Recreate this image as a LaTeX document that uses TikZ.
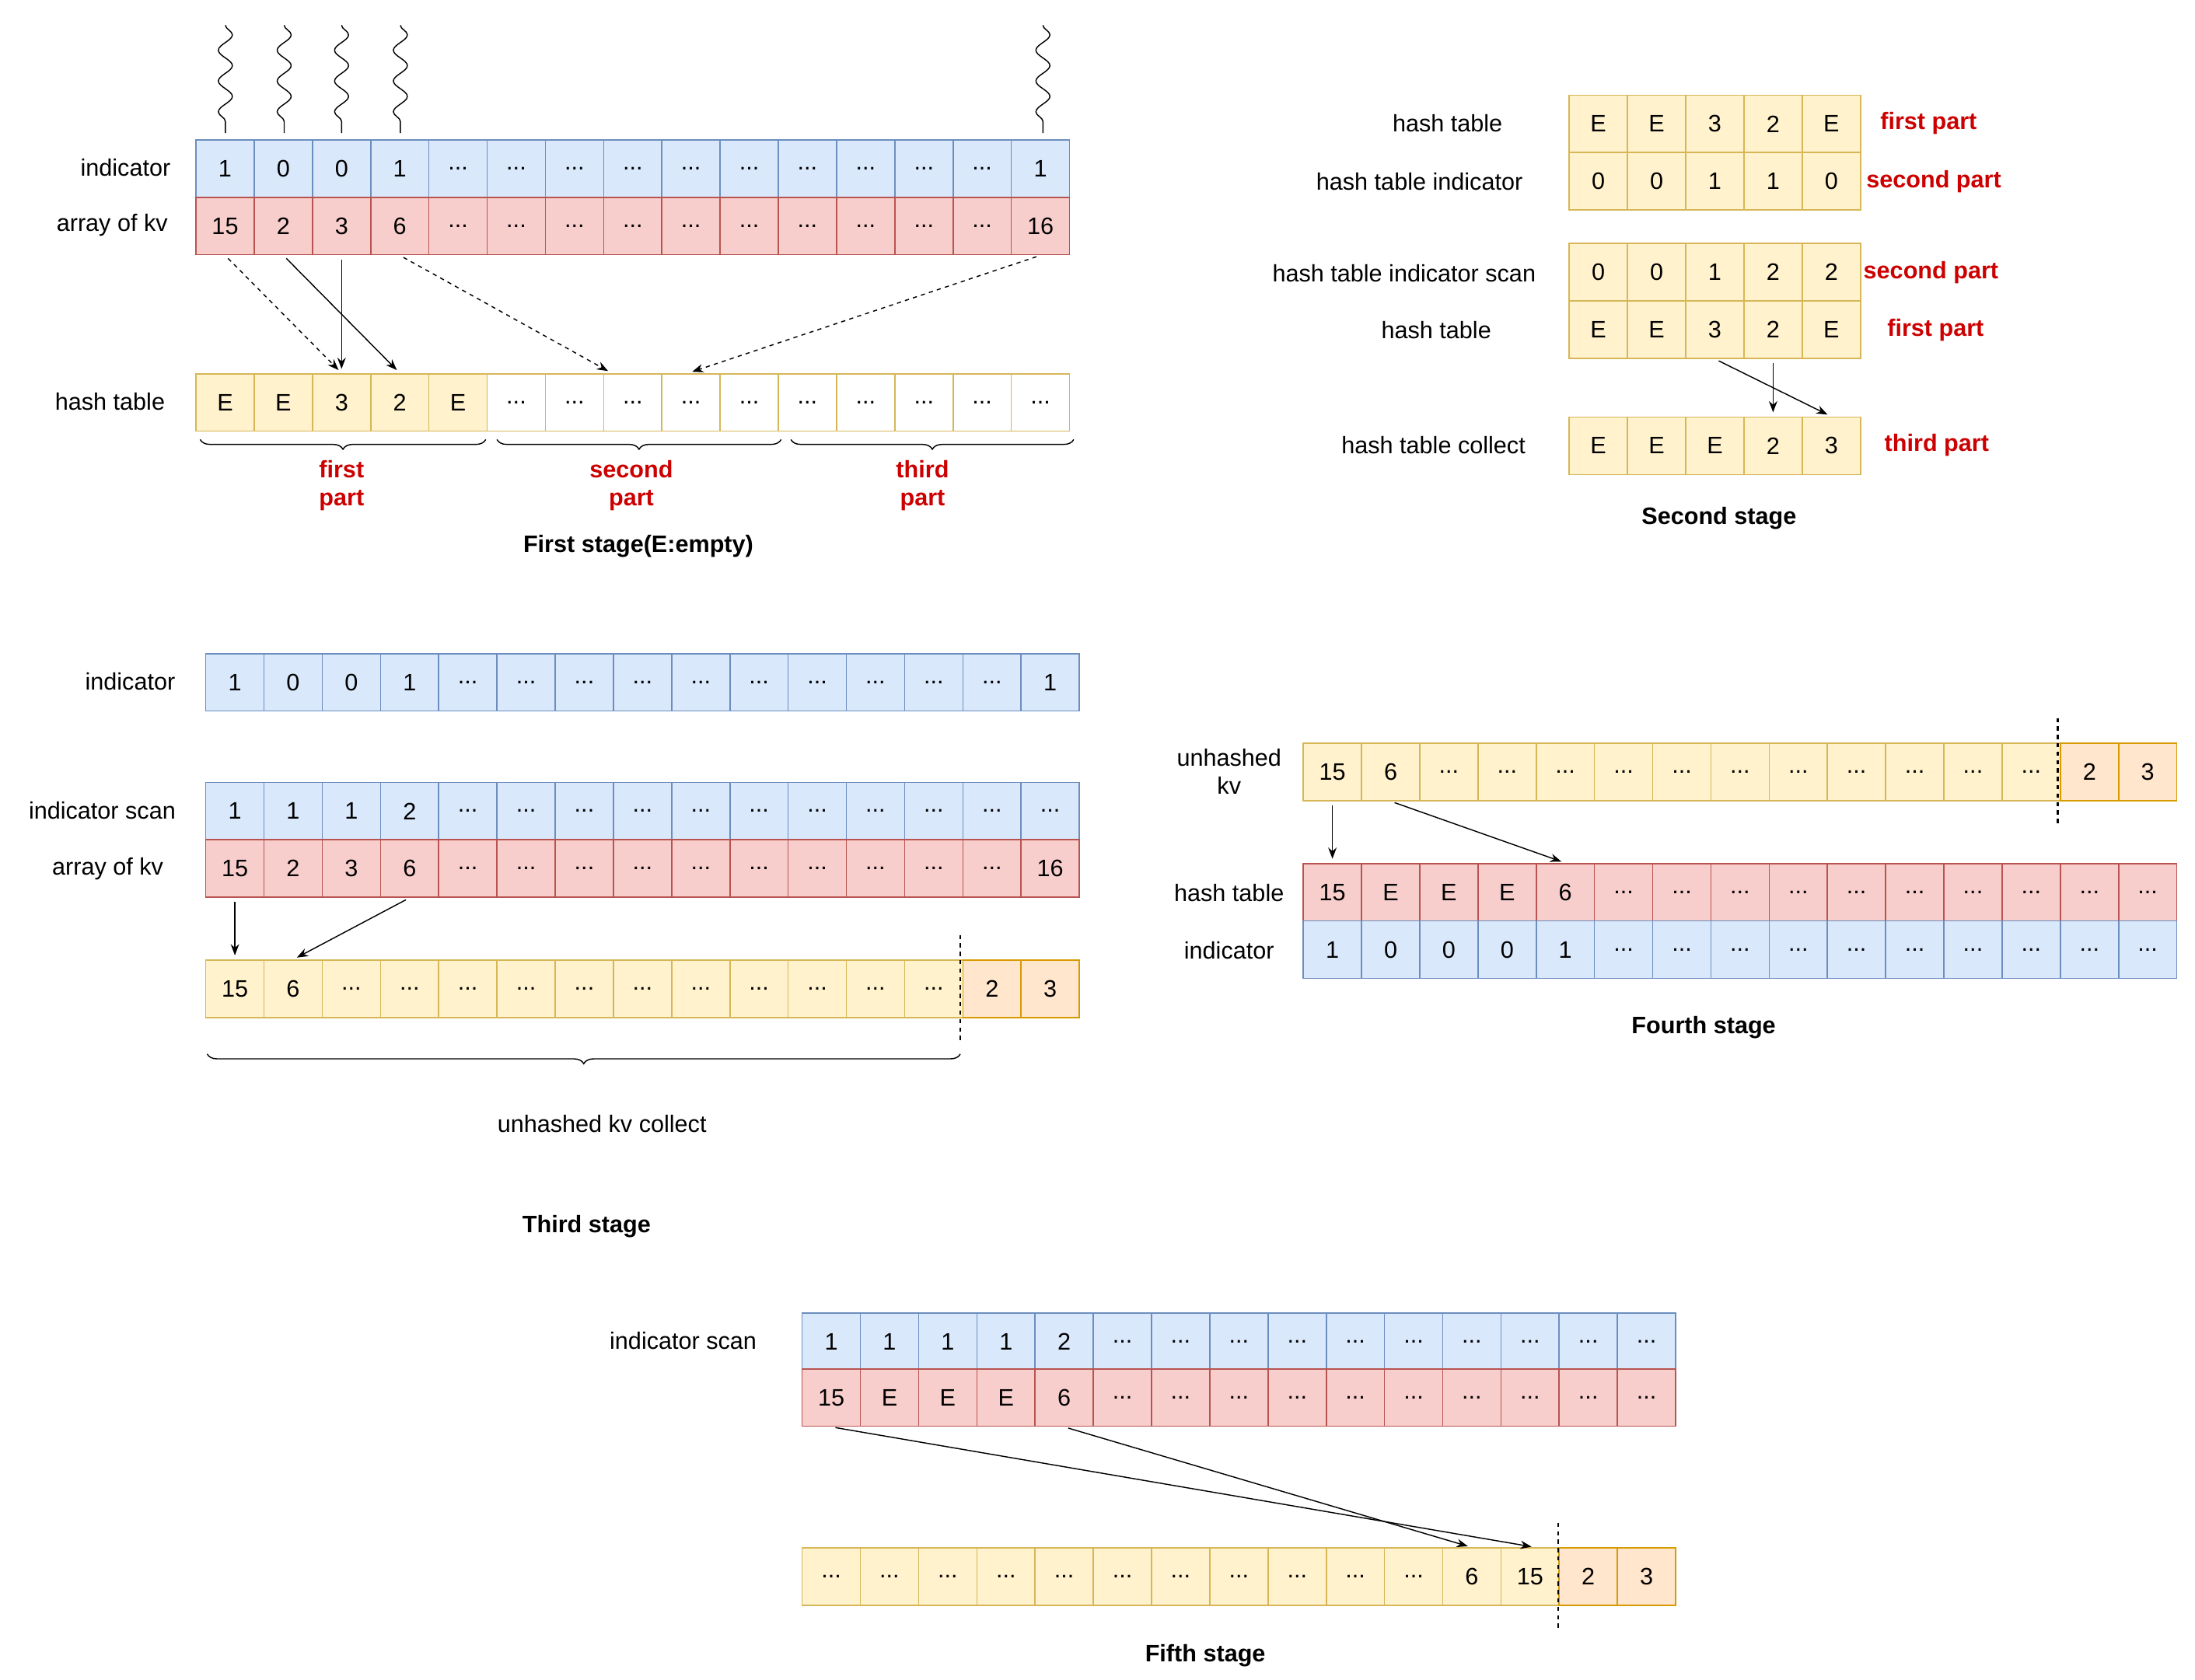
\documentclass[tikz,border=0pt]{standalone}
\usepackage{fontspec}
\setmainfont{Liberation Sans}
\usetikzlibrary{decorations.pathmorphing,decorations.pathreplacing,arrows.meta}
\definecolor{bF}{HTML}{DAE8FC}\definecolor{bD}{HTML}{6C8EBF}
\definecolor{rF}{HTML}{F8CECC}\definecolor{rD}{HTML}{B85450}
\definecolor{yF}{HTML}{FFF2CC}\definecolor{yD}{HTML}{D6B656}
\definecolor{oF}{HTML}{FFE6CC}\definecolor{oD}{HTML}{D79B00}
\definecolor{redtxt}{HTML}{CC0000}
\newcommand\dd{...}
\newcommand\cellrow[5]{\foreach \v [count=\i] in {#5} {\node[cell,#4] (#1-\i) at ({#2+(\i-0.5)*41.6},{#3+20.5}) {\v};}}
\begin{document}
\begin{tikzpicture}[x=1pt,y=-1pt,
 every node/.style={font=\fontsize{17}{20}\selectfont},
 cell/.style={draw,minimum width=41.6pt,minimum height=41pt,inner sep=0pt,line width=0.9pt},
 blue/.style={fill=bF,draw=bD}, red/.style={fill=rF,draw=rD},
 yel/.style={fill=yF,draw=yD}, ora/.style={fill=oF,draw=oD}, wht/.style={fill=white,draw=yD},
 lab/.style={inner sep=0pt},
 rlab/.style={inner sep=0pt,text=redtxt,font=\fontsize{17}{20}\selectfont\bfseries},
 title/.style={inner sep=0pt,font=\fontsize{17}{20}\selectfont\bfseries},
 arr/.style={-{Stealth[length=8pt,width=6pt]},line width=0.8pt,shorten >=3pt,shorten <=3pt},
 dsh/.style={arr,dashed},
 vdash/.style={dashed,line width=1.4pt},
 sq/.style={decorate,decoration={snake,amplitude=5pt,segment length=22pt},line width=0.8pt},
 br/.style={decorate,decoration={brace,amplitude=7pt},line width=0.8pt}]
\useasboundingbox (0,0) rectangle (1568,1200);
% ---------- First stage
\foreach \xx in {161,203,244,286,745} \draw[sq] (\xx,18) -- (\xx,95);
\cellrow{i1}{140}{100}{blue}{1,0,0,1,\dd,\dd,\dd,\dd,\dd,\dd,\dd,\dd,\dd,\dd,1}
\cellrow{k1}{140}{141}{red}{15,2,3,6,\dd,\dd,\dd,\dd,\dd,\dd,\dd,\dd,\dd,\dd,16}
\cellrow{h1}{140}{267}{yel}{E,E,3,2,E}
\cellrow{w1}{348}{267}{wht}{\dd,\dd,\dd,\dd,\dd,\dd,\dd,\dd,\dd,\dd}
\node[lab,anchor=east] at (122,120) {indicator};
\node[lab,anchor=east] at (120,161) {array of kv};
\node[lab,anchor=east] at (118,287) {hash table};
\draw[dsh] (k1-1.south) -- (h1-3.north);
\draw[arr] (k1-2.south) -- (h1-4.north);
\draw[arr] (k1-3.south) -- (h1-3.north);
\draw[dsh] (k1-4.south) -- ([xshift=-15pt]w1-3.north);
\draw[dsh] (k1-15.south) -- ([xshift=-2pt]w1-4.north);
\draw[br] (347,314) -- (143,314);
\draw[br] (558,314) -- (355,314);
\draw[br] (767,314) -- (565,314);
\node[rlab,align=center] at (244,347) {first\\part};
\node[rlab,align=center] at (451,347) {second\\part};
\node[rlab,align=center] at (659,347) {third\\part};
\node[title] at (456,390) {First stage(E:empty)};
% ---------- Second stage
\cellrow{h2}{1121}{68}{yel}{E,E,3,2,E}
\cellrow{n2}{1121}{109}{yel}{0,0,1,1,0}
\cellrow{s2}{1121}{174}{yel}{0,0,1,2,2}
\cellrow{t2}{1121}{215}{yel}{E,E,3,2,E}
\cellrow{c2}{1121}{298}{yel}{E,E,E,2,3}
\node[lab] at (1034,88) {hash table};
\node[lab] at (1014,130) {hash table indicator};
\node[lab] at (1003,195) {hash table indicator scan};
\node[lab] at (1026,236) {hash table};
\node[lab] at (1024,318) {hash table collect};
\node[rlab,anchor=west] at (1343,88) {first part};
\node[rlab,anchor=west] at (1333,130) {second part};
\node[rlab,anchor=west] at (1331,195) {second part};
\node[rlab,anchor=west] at (1348,236) {first part};
\node[rlab,anchor=west] at (1346,318) {third part};
\draw[arr] (t2-3.south) -- (c2-5.north);
\draw[arr] (t2-4.south) -- (c2-4.north);
\node[title] at (1228,370) {Second stage};
% ---------- Third stage
\cellrow{i3}{147}{467}{blue}{1,0,0,1,\dd,\dd,\dd,\dd,\dd,\dd,\dd,\dd,\dd,\dd,1}
\cellrow{s3}{147}{559}{blue}{1,1,1,2,\dd,\dd,\dd,\dd,\dd,\dd,\dd,\dd,\dd,\dd,\dd}
\cellrow{a3}{147}{600}{red}{15,2,3,6,\dd,\dd,\dd,\dd,\dd,\dd,\dd,\dd,\dd,\dd,16}
\cellrow{c3}{147}{686}{yel}{15,6,\dd,\dd,\dd,\dd,\dd,\dd,\dd,\dd,\dd,\dd,\dd}
\cellrow{o3}{687.8}{686}{ora}{2,3}
\draw[vdash] (686,668) -- (686,745);
\node[lab] at (93,487) {indicator};
\node[lab] at (73,579) {indicator scan};
\node[lab] at (77,621) {array of kv};
\draw[arr] (a3-1.south) -- (c3-1.north);
\draw[arr] (a3-4.south) -- (c3-2.north);
\draw[br] (686,753) -- (148,753);
\node[lab] at (430,803) {unhashed kv collect};
\node[title] at (419,876) {Third stage};
% ---------- Fourth stage
\cellrow{u4}{931}{531}{yel}{15,6,\dd,\dd,\dd,\dd,\dd,\dd,\dd,\dd,\dd,\dd,\dd}
\cellrow{p4}{1471.8}{531}{ora}{2,3}
\draw[vdash] (1470,513) -- (1470,590);
\cellrow{h4}{931}{617}{red}{15,E,E,E,6,\dd,\dd,\dd,\dd,\dd,\dd,\dd,\dd,\dd,\dd}
\cellrow{n4}{931}{658}{blue}{1,0,0,0,1,\dd,\dd,\dd,\dd,\dd,\dd,\dd,\dd,\dd,\dd}
\node[lab,align=center] at (878,551) {unhashed\\kv};
\node[lab] at (878,638) {hash table};
\node[lab] at (878,679) {indicator};
\draw[arr] (u4-1.south) -- (h4-1.north);
\draw[arr] (u4-2.south) -- (h4-5.north);
\node[title] at (1217,734) {Fourth stage};
% ---------- Fifth stage
\cellrow{s5}{573}{938}{blue}{1,1,1,1,2,\dd,\dd,\dd,\dd,\dd,\dd,\dd,\dd,\dd,\dd}
\cellrow{k5}{573}{978}{red}{15,E,E,E,6,\dd,\dd,\dd,\dd,\dd,\dd,\dd,\dd,\dd,\dd}
\cellrow{b5}{573}{1106}{yel}{\dd,\dd,\dd,\dd,\dd,\dd,\dd,\dd,\dd,\dd,\dd,6,15}
\cellrow{q5}{1113.8}{1106}{ora}{2,3}
\draw[vdash] (1113,1088) -- (1113,1165);
\node[lab] at (488,958) {indicator scan};
\draw[arr] (k5-1.south) -- ([xshift=4pt]b5-13.north);
\draw[arr] (k5-5.south) -- (b5-12.north);
\node[title] at (861,1183) {Fifth stage};
\end{tikzpicture}
\end{document}
